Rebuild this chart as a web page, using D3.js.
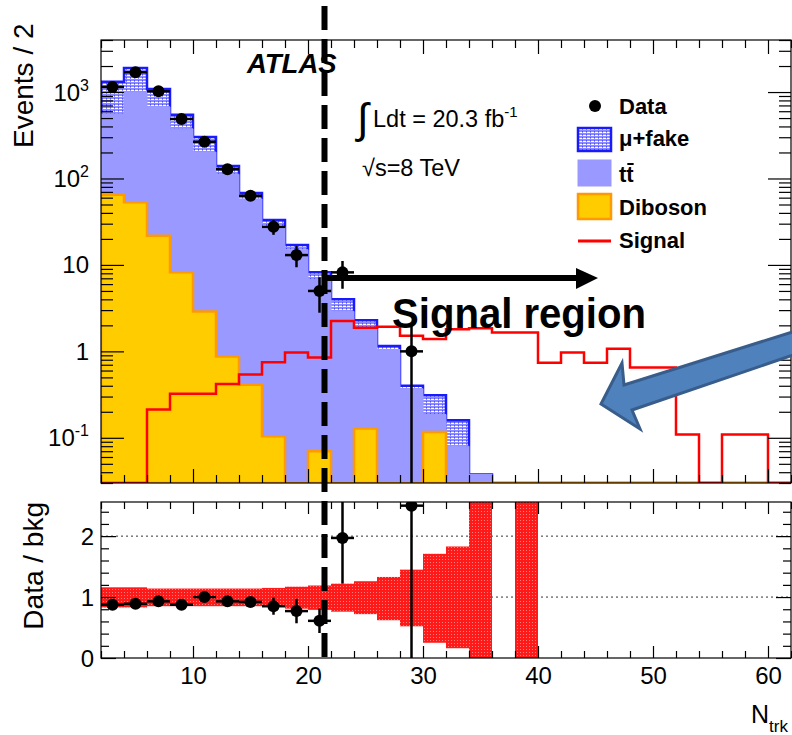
<!DOCTYPE html>
<html>
<head>
<meta charset="utf-8">
<script src="https://cdn.jsdelivr.net/npm/d3@7"></script>
<style>
  body { margin: 0; background: #fff; }
  svg text { font-family: "Liberation Sans", Arial, sans-serif; }
</style>
</head>
<body>
<div id="chart"></div>
<script>
// ---- data (bins of width 2 in N_trk, lower edges) ----
const binLow = [2, 4, 6, 8, 10, 12, 14, 16, 18, 20, 22, 24, 26, 28, 30,
                32, 34, 36, 38, 40, 42, 44, 46, 48, 50, 52, 54, 56, 58, 60];

const diboson = [65, 53, 21.7, 8.2, 2.9, 0.87, 0.41, 0.104, 0, 0.07, 0, 0.128, 0, 0, 0.117,
                 0, 0, 0, 0, 0, 0, 0, 0, 0, 0, 0, 0, 0, 0, 0];
const ttbar = [492, 947, 653, 367, 199, 111, 57.6, 26.9, 15, 6.73, 2.9, 1.72, 1.05, 0.37, 0.069,
               0.08, 0.0376, 0, 0, 0, 0, 0, 0, 0, 0, 0, 0, 0, 0, 0];
const muFake = [761, 900, 412, 172, 100, 28, 10, 6, 2, 1.4, 1.1, 0.44, 0.1, 0.03, 0.124,
                0.08, 0, 0, 0, 0, 0, 0, 0, 0, 0, 0, 0, 0, 0, 0];
const signal = [0, 0, 0.213, 0.323, 0.323, 0.42, 0.54, 0.75, 0.97, 0.85, 2.24, 1.88, 1.93, 1.52, 1.39,
                1.8, 1.85, 1.65, 1.65, 0.74, 0.97, 0.74, 1.07, 0.65, 0.65, 0.109, 0, 0.109, 0.109, 0];

// data: value and error (null = no entry)
const dataVal = [1146, 1695, 1020, 488, 266, 128, 63, 27.6, 13, 5.0, 8.2, null, null, 1, null];
const dataErr = [34, 41, 32, 22, 16, 11, 8, 5.3, 3.6, 2.2, 2.9, null, null, 1.0, null];

// ratio panel
const ratioVal = [0.875, 0.89, 0.93, 0.875, 1.0, 0.93, 0.92, 0.85, 0.77, 0.61, 1.97, null, null, 2.5, null];
const ratioErr = [0.04, 0.04, 0.04, 0.04, 0.05, 0.05, 0.06, 0.14, 0.2, 0.2, 0.75, null, null, 2.5, null];
const bandLo = [0.83, 0.83, 0.85, 0.85, 0.85, 0.85, 0.85, 0.84, 0.81, 0.79, 0.76, 0.72, 0.62, 0.52, 0.25,
                0.16, 0, null, 0, null, null, null, null, null, null, null, null, null, null, null];
const bandHi = [1.16, 1.16, 1.14, 1.14, 1.14, 1.14, 1.14, 1.15, 1.17, 1.19, 1.22, 1.26, 1.33, 1.45, 1.71,
                1.83, 2.7, null, 2.7, null, null, null, null, null, null, null, null, null, null, null];

// tick labels
const xTickLabels = [10, 20, 30, 40, 50, 60];
const yLogLabels = [
  { v: 1000, base: "10", exp: "3" },
  { v: 100, base: "10", exp: "2" },
  { v: 10, base: "10", exp: "" },
  { v: 1, base: "1", exp: "" },
  { v: 0.1, base: "10", exp: "-1" }
];
const yRatioLabels = [0, 1, 2];

// ---- layout ----
const W = 792, H = 735;
const xL = 101, xR = 791;
const tTop = 40, tBot = 483;
const rTop = 502, rBot = 658;
const yMin = 0.03;

const x = d3.scaleLinear().domain([2, 62]).range([xL, xR]);
const y = d3.scaleLog().domain([yMin, 4000]).range([tBot, tTop]);
const yr = d3.scaleLinear().domain([0, 2.56]).range([rBot, rTop]);

const svg = d3.select("#chart").append("svg")
    .attr("width", W)
    .attr("height", H);

const defs = svg.append("defs");

// mu+fake dotted hatch
const pFake = defs.append("pattern")
    .attr("id", "fakeHatch")
    .attr("patternUnits", "userSpaceOnUse")
    .attr("width", 4).attr("height", 3);
pFake.append("rect").attr("width", 4).attr("height", 3).attr("fill", "#8c8cff");
pFake.append("rect").attr("x", 0).attr("y", 0).attr("width", 2).attr("height", 1).attr("fill", "#ffffff");
pFake.append("rect").attr("x", 3).attr("y", 0).attr("width", 1).attr("height", 1).attr("fill", "#ffffff");
pFake.append("rect").attr("x", 2).attr("y", 2).attr("width", 1).attr("height", 1).attr("fill", "#4d4dff");

// ratio band pattern
const pBand = defs.append("pattern")
    .attr("id", "bandHatch")
    .attr("patternUnits", "userSpaceOnUse")
    .attr("width", 3).attr("height", 3);
pBand.append("rect").attr("width", 3).attr("height", 3).attr("fill", "#ff1a1a");
pBand.append("rect").attr("x", 1).attr("y", 1).attr("width", 1).attr("height", 1).attr("fill", "#ff8080");

defs.append("clipPath").attr("id", "clipTop")
    .append("rect").attr("x", xL).attr("y", tTop).attr("width", xR - xL).attr("height", tBot - tTop);
defs.append("clipPath").attr("id", "clipRatio")
    .append("rect").attr("x", xL).attr("y", rTop).attr("width", xR - xL).attr("height", rBot - rTop);

// ---- top panel ----
const cumTT = diboson.map((d, i) => d + ttbar[i]);
const cumAll = cumTT.map((d, i) => d + muFake[i]);

const yc = v => (v > yMin ? y(v) : tBot);
const stepPts = vals => vals.map((v, i) => [binLow[i], v]).concat([[62, vals[vals.length - 1]]]);

const stepArea = d3.area()
    .curve(d3.curveStepAfter)
    .x(d => x(d[0]))
    .y0(tBot)
    .y1(d => yc(d[1]));

const stepLine = d3.line()
    .curve(d3.curveStepAfter)
    .x(d => x(d[0]))
    .y(d => yc(d[1]));

const topG = svg.append("g").attr("clip-path", "url(#clipTop)");

topG.append("path")
    .attr("d", stepArea(stepPts(cumAll)))
    .attr("fill", "url(#fakeHatch)")
    .attr("stroke", "#1a1aff")
    .attr("stroke-width", 2.5);

topG.append("path")
    .attr("d", stepArea(stepPts(cumTT)))
    .attr("fill", "#9999ff")
    .attr("stroke", "#9999ff")
    .attr("stroke-width", 1);

topG.append("path")
    .attr("d", stepArea(stepPts(diboson)))
    .attr("fill", "#ffcc00")
    .attr("stroke", "#ff9900")
    .attr("stroke-width", 2.5);

topG.append("path")
    .attr("d", "M" + x(2) + "," + tBot + stepLine(stepPts(signal)).replace(/^M/, "L") + "L" + x(62) + "," + tBot)
    .attr("fill", "none")
    .attr("stroke", "#ff0000")
    .attr("stroke-width", 2.5);

// data points
const dataG = topG.append("g");
dataVal.forEach((v, i) => {
    if (v === null) return;
    const cx = x(binLow[i] + 1);
    const e = dataErr[i];
    dataG.append("line")
        .attr("x1", cx).attr("x2", cx)
        .attr("y1", yc(v + e)).attr("y2", yc(v - e))
        .attr("stroke", "#000").attr("stroke-width", 2.5);
    dataG.append("line")
        .attr("x1", x(binLow[i])).attr("x2", x(binLow[i] + 2))
        .attr("y1", y(v)).attr("y2", y(v))
        .attr("stroke", "#000").attr("stroke-width", 2.5);
    dataG.append("circle")
        .attr("cx", cx).attr("cy", y(v)).attr("r", 6)
        .attr("fill", "#000");
});

// ---- ratio panel ----
const ratG = svg.append("g").attr("clip-path", "url(#clipRatio)");

yRatioLabels.filter(v => v > 0).forEach(v => {
    ratG.append("line")
        .attr("x1", xL).attr("x2", xR)
        .attr("y1", yr(v)).attr("y2", yr(v))
        .attr("stroke", "#333")
        .attr("stroke-width", 1)
        .attr("stroke-dasharray", "2,3");
});

bandLo.forEach((lo, i) => {
    if (lo === null) return;
    ratG.append("rect")
        .attr("x", x(binLow[i]))
        .attr("width", x(binLow[i] + 2) - x(binLow[i]))
        .attr("y", yr(bandHi[i]))
        .attr("height", yr(lo) - yr(bandHi[i]))
        .attr("fill", "url(#bandHatch)");
});

ratioVal.forEach((v, i) => {
    if (v === null) return;
    const cx = x(binLow[i] + 1);
    const e = ratioErr[i];
    ratG.append("line")
        .attr("x1", cx).attr("x2", cx)
        .attr("y1", yr(v + e)).attr("y2", yr(Math.max(0, v - e)))
        .attr("stroke", "#000").attr("stroke-width", 2.5);
    ratG.append("line")
        .attr("x1", x(binLow[i])).attr("x2", x(binLow[i] + 2))
        .attr("y1", yr(v)).attr("y2", yr(v))
        .attr("stroke", "#000").attr("stroke-width", 2.5);
    ratG.append("circle")
        .attr("cx", cx).attr("cy", yr(v)).attr("r", 6)
        .attr("fill", "#000");
});

// ---- frames and ticks ----
function tickAxis(axisFn, scale, values, len, tx, ty) {
    const g = svg.append("g")
        .attr("transform", `translate(${tx},${ty})`)
        .call(axisFn(scale).tickValues(values).tickSize(-len).tickFormat(""));
    g.select(".domain").remove();
    g.selectAll(".tick line").attr("stroke", "#000").attr("stroke-width", 1.2);
    return g;
}

const xMinor = d3.range(2, 62.1, 2).filter(v => v % 10 !== 0);
const xMajor = xTickLabels;

const logMinor = [];
[-2, -1, 0, 1, 2, 3].forEach(d => {
    for (let m = 2; m <= 9; m++) {
        const v = m * Math.pow(10, d);
        if (v >= yMin && v <= 4000) logMinor.push(v);
    }
});
const logMajor = yLogLabels.map(d => d.v);

// top panel
tickAxis(d3.axisBottom, x, xMinor, 8, 0, tBot);
tickAxis(d3.axisBottom, x, xMajor, 14, 0, tBot);
tickAxis(d3.axisTop, x, xMinor, 8, 0, tTop);
tickAxis(d3.axisTop, x, xMajor, 14, 0, tTop);
tickAxis(d3.axisLeft, y, logMinor, 12, xL, 0);
tickAxis(d3.axisLeft, y, logMajor, 23, xL, 0);
tickAxis(d3.axisRight, y, logMinor, 12, xR, 0);
tickAxis(d3.axisRight, y, logMajor, 23, xR, 0);

// ratio panel
const rMinor = d3.range(0, 2.56, 0.2).filter(v => Math.abs(v - Math.round(v)) > 0.01);
tickAxis(d3.axisBottom, x, xMinor, 7, 0, rBot);
tickAxis(d3.axisBottom, x, xMajor, 12, 0, rBot);
tickAxis(d3.axisTop, x, xMinor, 7, 0, rTop);
tickAxis(d3.axisTop, x, xMajor, 12, 0, rTop);
tickAxis(d3.axisLeft, yr, rMinor, 8, xL, 0);
tickAxis(d3.axisLeft, yr, yRatioLabels, 15, xL, 0);
tickAxis(d3.axisRight, yr, rMinor, 8, xR, 0);
tickAxis(d3.axisRight, yr, yRatioLabels, 15, xR, 0);

svg.append("rect")
    .attr("x", xL).attr("y", tTop).attr("width", xR - xL).attr("height", tBot - tTop)
    .attr("fill", "none").attr("stroke", "#000").attr("stroke-width", 1.2);
svg.append("rect")
    .attr("x", xL).attr("y", rTop).attr("width", xR - xL).attr("height", rBot - rTop)
    .attr("fill", "none").attr("stroke", "#000").attr("stroke-width", 1.2);

// ---- tick labels ----
const xLab = svg.append("g")
    .attr("transform", `translate(0,${rBot})`)
    .call(d3.axisBottom(x).tickValues(xTickLabels).tickSize(0).tickPadding(9).tickFormat(d3.format("d")));
xLab.select(".domain").remove();
xLab.selectAll("text")
    .attr("font-size", 24)
    .attr("font-family", "Liberation Sans, Arial, sans-serif")
    .attr("fill", "#000");

yLogLabels.forEach(d => {
    const t = svg.append("text")
        .attr("x", 89)
        .attr("y", y(d.v) + 8.5)
        .attr("text-anchor", "end")
        .attr("font-size", 24)
        .attr("fill", "#000");
    t.append("tspan").text(d.base);
    if (d.exp) {
        t.append("tspan").attr("dy", -10).attr("font-size", 16).text(d.exp);
    }
});

yRatioLabels.forEach(v => {
    svg.append("text")
        .attr("x", 94)
        .attr("y", yr(v) + 8.5)
        .attr("text-anchor", "end")
        .attr("font-size", 24)
        .attr("fill", "#000")
        .text(v);
});

// axis titles
svg.append("text")
    .attr("transform", "translate(33,148) rotate(-90)")
    .attr("text-anchor", "start")
    .attr("font-size", 28)
    .attr("fill", "#000")
    .text("Events / 2");

svg.append("text")
    .attr("transform", "translate(43,502) rotate(-90)")
    .attr("text-anchor", "end")
    .attr("font-size", 28)
    .attr("fill", "#000")
    .text("Data / bkg");

const nt = svg.append("text")
    .attr("x", 751).attr("y", 723)
    .attr("font-size", 25)
    .attr("fill", "#000");
nt.append("tspan").text("N");
nt.append("tspan").attr("dy", 9).attr("font-size", 17).text("trk");

// ---- ATLAS label and lumi ----
svg.append("text")
    .attr("x", 247).attr("y", 73)
    .attr("font-size", 27.5)
    .attr("font-weight", "bold")
    .attr("font-style", "italic")
    .attr("fill", "#000")
    .text("ATLAS");

svg.append("text")
    .attr("x", 357).attr("y", 133)
    .attr("font-size", 42)
    .attr("font-family", "DejaVu Sans")
    .attr("fill", "#000")
    .text("\u222B");

const lumi = svg.append("text")
    .attr("x", 373).attr("y", 127)
    .attr("font-size", 23.5)
    .attr("fill", "#000");
lumi.append("tspan").text("Ldt = 20.3 fb");
lumi.append("tspan").attr("dy", -10).attr("font-size", 15).text("-1");

svg.append("text")
    .attr("x", 362).attr("y", 176)
    .attr("font-size", 23.5)
    .attr("fill", "#000")
    .text("\u221As=8 TeV");

// ---- legend ----
const leg = svg.append("g");
const legX = 578, legTx = 619;
leg.append("circle").attr("cx", 595).attr("cy", 106).attr("r", 6).attr("fill", "#000");
leg.append("rect").attr("x", legX).attr("y", 128).attr("width", 33).attr("height", 23)
    .attr("fill", "url(#fakeHatch)").attr("stroke", "#1a1aff").attr("stroke-width", 2.5);
leg.append("rect").attr("x", legX).attr("y", 160).attr("width", 33).attr("height", 26)
    .attr("fill", "#9999ff").attr("stroke", "#9999ff").attr("stroke-width", 1);
leg.append("rect").attr("x", legX).attr("y", 194).attr("width", 33).attr("height", 25)
    .attr("fill", "#ffcc00").attr("stroke", "#ff9900").attr("stroke-width", 2.5);
leg.append("line").attr("x1", legX).attr("x2", legX + 33).attr("y1", 241).attr("y2", 241)
    .attr("stroke", "#ff0000").attr("stroke-width", 3);

const legText = [
    { t: "Data", y: 114 },
    { t: "\u03BC+fake", y: 146 },
    { t: "tt", y: 182 },
    { t: "Diboson", y: 215 },
    { t: "Signal", y: 248 }
];
legText.forEach(d => {
    const el = leg.append("text")
        .attr("x", legTx).attr("y", d.y)
        .attr("font-size", 22)
        .attr("font-weight", "bold")
        .attr("fill", "#000")
        .text(d.t);
    if (d.t === "tt") {
        // bar over the second t
        const w = el.node().getComputedTextLength();
        leg.append("line")
            .attr("x1", legTx + w / 2 + 1).attr("x2", legTx + w)
            .attr("y1", d.y - 18).attr("y2", d.y - 18)
            .attr("stroke", "#000").attr("stroke-width", 2);
    }
});

// ---- slide annotations ----
const ann = svg.append("g");

ann.append("line")
    .attr("x1", 326).attr("x2", 580)
    .attr("y1", 278).attr("y2", 278)
    .attr("stroke", "#000").attr("stroke-width", 6);
ann.append("path")
    .attr("d", "M598,278 L576,268 L576,289 Z")
    .attr("fill", "#000");

ann.append("text")
    .attr("x", 392).attr("y", 328)
    .attr("font-family", "Lato, 'Open Sans', sans-serif")
    .attr("font-weight", "bold")
    .attr("font-size", 42)
    .attr("textLength", 254)
    .attr("lengthAdjust", "spacingAndGlyphs")
    .attr("fill", "#000")
    .text("Signal region");

ann.append("path")
    .attr("d", "M601,404 L622,363 L624,385 L805,328 L805,351 L632,410 L640,429 Z")
    .attr("fill", "#4f81bd")
    .attr("stroke", "#385d8a")
    .attr("stroke-width", 3)
    .attr("stroke-linejoin", "miter");

ann.append("line")
    .attr("x1", 324.5).attr("x2", 324.5)
    .attr("y1", 6).attr("y2", 665)
    .attr("stroke", "#000")
    .attr("stroke-width", 6)
    .attr("stroke-dasharray", "24,9");
</script>
</body>
</html>
